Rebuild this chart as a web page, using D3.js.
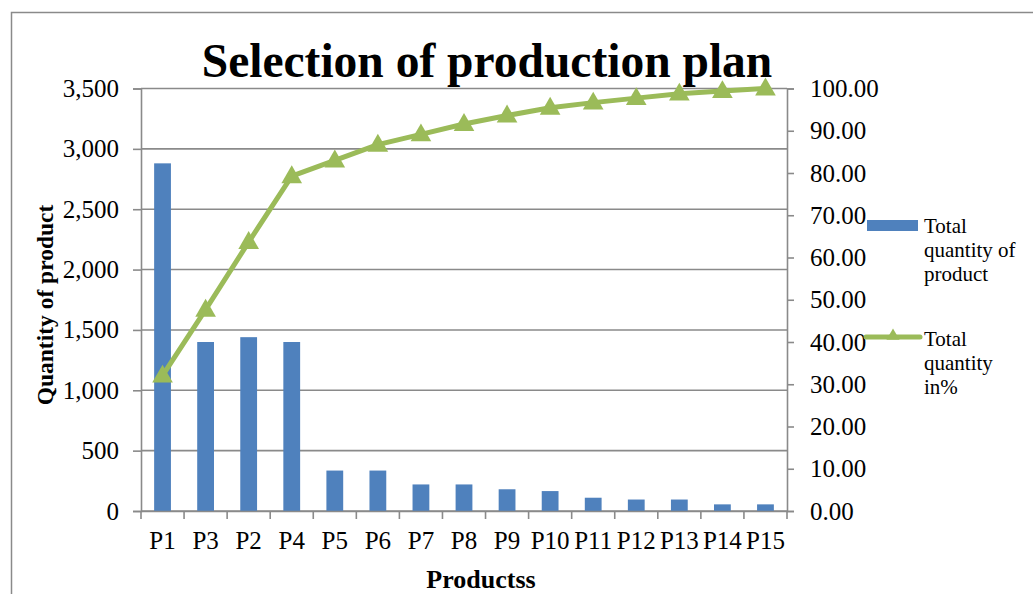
<!DOCTYPE html>
<html>
<head>
<meta charset="utf-8">
<script src="https://cdn.jsdelivr.net/npm/d3@7"></script>
<style>
  html, body { margin: 0; padding: 0; background: #ffffff; }
  svg { display: block; }
  text { font-family: "Liberation Serif", "Times New Roman", serif; fill: #000; }
</style>
</head>
<body>
<svg id="chart" width="1033" height="594"></svg>
<script>
// Products, sorted by quantity (Pareto order)
const products = ["P1", "P3", "P2", "P4", "P5", "P6", "P7", "P8", "P9", "P10", "P11", "P12", "P13", "P14", "P15"];
// Total quantity of each product
const quantities = [2880, 1400, 1440, 1400, 335, 335, 220, 220, 180, 165, 110, 95, 95, 55, 55];
// Cumulative share of total quantity, in %
const cumulativePct = [32.05, 47.64, 63.66, 79.24, 82.97, 86.70, 89.15, 91.60, 93.60, 95.44, 96.66, 97.72, 98.78, 99.39, 100.00];
// Axis ticks
const leftTicks = [0, 500, 1000, 1500, 2000, 2500, 3000, 3500];
const rightTicks = [0, 10, 20, 30, 40, 50, 60, 70, 80, 90, 100];

const svg = d3.select("#chart");
const W = 1033, H = 594;
const plot = { left: 141, right: 787, top: 88.5, bottom: 511 };
const gridColor = "#8a8a8a";

// Outer chart frame
svg.append("path")
  .attr("d", `M11.5,${H} L11.5,12.5 L${W},12.5`)
  .attr("fill", "none").attr("stroke", gridColor).attr("stroke-width", 1.5);

const x = d3.scaleBand().domain(products).range([plot.left, plot.right]).paddingInner(0.61).paddingOuter(0.305);
const xBand = d3.scaleBand().domain(products).range([plot.left, plot.right]);
const yL = d3.scaleLinear().domain([0, 3500]).range([plot.bottom, plot.top]);
const yR = d3.scaleLinear().domain([0, 100]).range([plot.bottom, plot.top]);

// Horizontal gridlines
svg.append("g").selectAll("line").data(leftTicks).join("line")
  .attr("x1", plot.left).attr("x2", plot.right)
  .attr("y1", d => yL(d)).attr("y2", d => yL(d))
  .attr("stroke", gridColor).attr("stroke-width", 1.6);

// Bars
svg.append("g").selectAll("rect").data(quantities).join("rect")
  .attr("x", (d, i) => x(products[i]))
  .attr("width", x.bandwidth())
  .attr("y", d => yL(d))
  .attr("height", d => yL(0) - yL(d))
  .attr("fill", "#4f81bd");

// Left axis
const leftAxis = svg.append("g").attr("transform", `translate(${plot.left},0)`)
  .call(d3.axisLeft(yL).tickValues(leftTicks).tickSize(8).tickPadding(14).tickFormat(d3.format(",")));
// Right axis
const rightAxis = svg.append("g").attr("transform", `translate(${plot.right},0)`)
  .call(d3.axisRight(yR).tickValues(rightTicks).tickSize(7).tickPadding(16).tickFormat(d3.format(".2f")));
// Bottom axis: ticks at category boundaries
const bottomAxis = svg.append("g").attr("transform", `translate(0,${plot.bottom})`)
  .call(d3.axisBottom(xBand).tickSize(0).tickPadding(20));
bottomAxis.append("g").selectAll("line")
  .data(d3.range(products.length + 1)).join("line")
  .attr("x1", i => plot.left + i * xBand.step()).attr("x2", i => plot.left + i * xBand.step())
  .attr("y1", 0).attr("y2", 8)
  .attr("stroke", gridColor).attr("stroke-width", 1.6);

[leftAxis, rightAxis, bottomAxis].forEach(g => {
  g.select(".domain").attr("stroke", gridColor).attr("stroke-width", 1.6);
  g.selectAll(".tick line").attr("stroke", gridColor).attr("stroke-width", 1.6);
  g.selectAll("text").attr("font-family", "Liberation Serif, Times New Roman, serif")
    .attr("font-size", 25).attr("fill", "#000");
});
bottomAxis.selectAll(".tick text").attr("dy", "0.71em");

// Cumulative % line
const line = d3.line()
  .x((d, i) => xBand(products[i]) + xBand.bandwidth() / 2)
  .y(d => yR(d));
svg.append("path").datum(cumulativePct)
  .attr("d", line)
  .attr("fill", "none").attr("stroke", "#9bbb59").attr("stroke-width", 5)
  .attr("stroke-linejoin", "round");

const tri = d3.symbol(d3.symbolTriangle, 185);
svg.append("g").selectAll("path").data(cumulativePct).join("path")
  .attr("d", tri)
  .attr("transform", (d, i) => `translate(${xBand(products[i]) + xBand.bandwidth() / 2},${yR(d) + 1})`)
  .attr("fill", "#9bbb59");

// Title
svg.append("text")
  .attr("x", 487).attr("y", 77)
  .attr("text-anchor", "middle")
  .attr("font-size", 47.5).attr("font-weight", "bold")
  .text("Selection of production plan");

// Axis titles
svg.append("text")
  .attr("transform", "translate(53,305) rotate(-90)")
  .attr("text-anchor", "middle")
  .attr("font-size", 23.5).attr("font-weight", "bold")
  .text("Quantity of product");
svg.append("text")
  .attr("x", 481).attr("y", 588)
  .attr("text-anchor", "middle")
  .attr("font-size", 26).attr("font-weight", "bold")
  .text("Productss");

// Legend
const legend = svg.append("g");
legend.append("rect").attr("x", 867).attr("y", 220).attr("width", 51).attr("height", 11).attr("fill", "#4f81bd");
legend.append("line").attr("x1", 866).attr("x2", 920).attr("y1", 337).attr("y2", 337)
  .attr("stroke", "#9bbb59").attr("stroke-width", 5).attr("stroke-linecap", "round");
legend.append("path").attr("d", d3.symbol(d3.symbolTriangle, 75)).attr("transform", "translate(893,336)").attr("fill", "#9bbb59");

const legendText = [
  { y: 233, lines: ["Total", "quantity of", "product"] },
  { y: 346, lines: ["Total", "quantity", "in%"] }
];
legendText.forEach(item => {
  const t = legend.append("text").attr("x", 924).attr("y", item.y).attr("font-size", 21);
  item.lines.forEach((s, k) => {
    t.append("tspan").attr("x", 924).attr("dy", k === 0 ? 0 : 24).text(s);
  });
});
</script>
</body>
</html>
